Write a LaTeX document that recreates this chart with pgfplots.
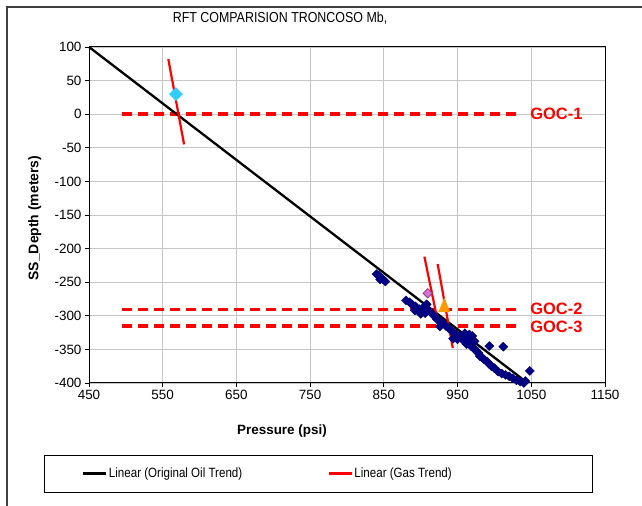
\documentclass[border=0pt]{standalone}
\usepackage{fontspec}
\setmainfont{Liberation Sans}
\newfontfamily\narrowfont[FakeStretch=0.86]{Liberation Sans}
\usepackage{pgfplots}
\pgfplotsset{compat=1.18}
\definecolor{navypt}{RGB}{0,0,128}
\definecolor{cyanpt}{RGB}{51,204,255}
\definecolor{pinkfill}{RGB}{204,120,204}
\definecolor{pinkdraw}{RGB}{153,51,153}
\definecolor{orangept}{RGB}{255,153,0}
\definecolor{gocred}{RGB}{255,0,0}

\begin{document}
\begin{tikzpicture}[x=1bp,y=1bp]
\useasboundingbox (0,0) rectangle (642,506);
% chart area border (partly cropped in the reference)
\draw[line width=1.2bp, black!75] (7,0) -- (7,499) -- (642,499);
% legend frame
\draw[line width=0.8bp] (44,14) rectangle (592,51);
% chart title
\node[font=\narrowfont\fontsize{14.5}{16}\selectfont] at (280,488) {RFT COMPARISION TRONCOSO Mb,};
\begin{axis}[
    at={(89bp,123bp)}, anchor=south west,
    scale only axis, width=516bp, height=336bp,
    xmin=450, xmax=1150, ymin=-400, ymax=100,
    xtick={450,550,...,1150}, ytick={-400,-350,...,100},
    xtick pos=left, ytick pos=left,
    tick align=outside, major tick length=4bp,
    tick style={black, line width=0.8bp},
    grid=major, grid style={gray!45, line width=0.8bp},
    axis line style={line width=1bp},
    ticklabel style={font=\fontsize{13.5}{15}\selectfont},
    /pgf/number format/assume math mode=true,
    /pgf/number format/1000 sep={},
    xlabel={\bfseries Pressure (psi)},
    xlabel style={font=\fontsize{13.5}{15}\selectfont, at={(rel axis cs:0.374,-0.143)}, anchor=center},
    ylabel={\bfseries SS\_Depth (meters)},
    ylabel style={font=\fontsize{14}{15}\selectfont, at={(rel axis cs:-0.105,0.491)}, anchor=center},
    clip=false,
    legend columns=2,
    legend image code/.code={\draw[#1] (0bp,0bp) -- (23bp,0bp);},
    legend style={draw=none, fill=none, at={(rel axis cs:-0.0136,-0.2693)}, anchor=west,
        font=\narrowfont\fontsize{13.5}{15}\selectfont, inner sep=0pt,
        nodes={inner xsep=1.5bp, inner ysep=1bp},
        /tikz/every even column/.append style={column sep=84bp}},
]
% gas-oil contacts
\addplot[forget plot, gocred, line width=3.5bp, dash pattern=on 10bp off 6bp] coordinates {(495,0) (1037,0)};
\addplot[forget plot, gocred, line width=3.5bp, dash pattern=on 10bp off 6bp] coordinates {(495,-291) (1037,-291)};
\addplot[forget plot, gocred, line width=3.5bp, dash pattern=on 10bp off 6bp] coordinates {(495,-315) (1037,-315)};
% RFT points
\addplot[forget plot, only marks, mark=square*, mark size=3.2bp, mark options={rotate=45, fill=navypt, draw=navypt}] coordinates {
(840,-238) (843,-240) (846,-243) (849,-246) (852,-249) (845,-246)
(880,-277) (885,-280) (888,-283) (893,-286) (898,-290) (892,-292)
(903,-288) (906,-296) (908,-283) (912,-293) (918,-300) (900,-297)
(922,-305) (926,-308) (930,-311) (934,-315) (938,-318) (926,-316)
(941,-322) (945,-325) (948,-328) (950,-335) (953,-330) (944,-334)
(956,-333) (959,-338) (962,-342) (965,-336) (968,-345) (960,-326)
(970,-330) (972,-348) (975,-352) (978,-355) (980,-360) (966,-328)
(983,-362) (986,-365) (990,-368) (993,-372) (996,-375) (973,-338)
(1000,-378) (993,-345) (1012,-346) (1005,-383) (1010,-386)
(1015,-388) (1020,-390) (1025,-393) (1030,-396) (1035,-398)
(1040,-400) (1048,-382) (1042,-397)
};
\addplot[forget plot, only marks, mark=square*, mark size=4.6bp, mark options={rotate=45, fill=cyanpt, draw=cyanpt}] coordinates {(568,30)};
\addplot[forget plot, only marks, mark=square*, mark size=3.3bp, mark options={rotate=45, fill=pinkfill, draw=pinkdraw, line width=0.8bp}] coordinates {(909.5,-266.5)};
\addplot[forget plot, only marks, mark=triangle*, mark size=6.5bp, mark options={yscale=1.4, fill=orangept, draw=orangept}] coordinates {(932,-287.5)};
% trends
\addplot[black, line width=2.3bp] coordinates {(450,100) (1045,-400)};
\addlegendentry{Linear (Original Oil Trend)}
\addplot[gocred, line width=2.2bp] coordinates {(557.6,82) (579,-45)};
\addlegendentry{Linear (Gas Trend)}
\addplot[forget plot, gocred, line width=2.2bp] coordinates {(905,-212) (925.3,-320)};
\addplot[forget plot, gocred, line width=2.2bp] coordinates {(923,-223) (943.5,-348)};
% contact labels
\node[anchor=west, text=gocred, font=\fontsize{16.5}{18}\selectfont\bfseries] at (axis cs:1044,0) {GOC-1};
\node[anchor=west, text=gocred, font=\fontsize{16.5}{18}\selectfont\bfseries] at (axis cs:1044,-290) {GOC-2};
\node[anchor=west, text=gocred, font=\fontsize{16.5}{18}\selectfont\bfseries] at (axis cs:1044,-316) {GOC-3};
\end{axis}
\end{tikzpicture}
\end{document}
